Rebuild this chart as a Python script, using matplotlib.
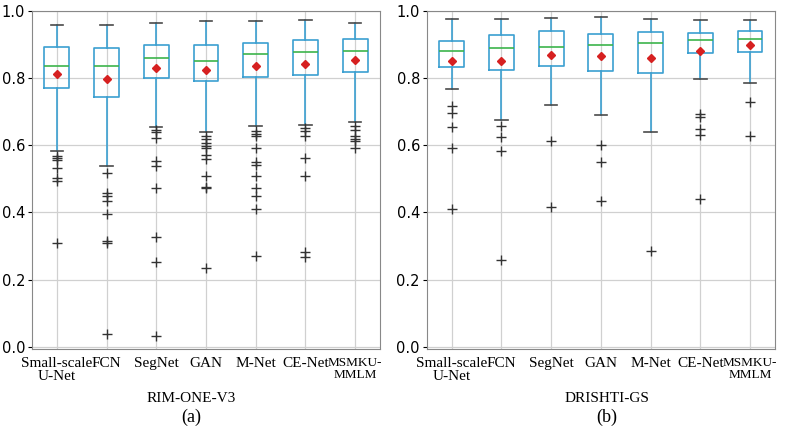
import matplotlib
matplotlib.use("Agg")
import matplotlib.pyplot as plt

methods = ["Small-scale\nU-Net", "FCN", "SegNet", "GAN", "M-Net", "CE-Net", "MSMKU-\nMMLM"]

# RIM-ONE-V3
a_whislo = [0.584, 0.537, 0.654, 0.640, 0.658, 0.660, 0.668]
a_q1     = [0.770, 0.744, 0.800, 0.791, 0.803, 0.809, 0.819]
a_med    = [0.837, 0.835, 0.860, 0.852, 0.873, 0.877, 0.882]
a_q3     = [0.894, 0.889, 0.900, 0.898, 0.904, 0.912, 0.917]
a_whishi = [0.959, 0.959, 0.964, 0.970, 0.970, 0.974, 0.964]
a_mean   = [0.813, 0.798, 0.830, 0.824, 0.835, 0.843, 0.854]
a_fliers = [
    [0.567, 0.562, 0.557, 0.532, 0.502, 0.492, 0.308],
    [0.517, 0.459, 0.449, 0.434, 0.396, 0.315, 0.308, 0.038],
    [0.646, 0.638, 0.621, 0.554, 0.539, 0.473, 0.326, 0.252, 0.032],
    [0.626, 0.618, 0.606, 0.599, 0.592, 0.572, 0.559, 0.507, 0.477, 0.472, 0.233],
    [0.641, 0.632, 0.626, 0.592, 0.549, 0.540, 0.509, 0.472, 0.448, 0.410, 0.271],
    [0.651, 0.641, 0.626, 0.562, 0.507, 0.283, 0.267],
    [0.656, 0.646, 0.626, 0.618, 0.614, 0.592],
]

# DRISHTI-GS
b_whislo = [0.766, 0.676, 0.720, 0.690, 0.640, 0.797, 0.784]
b_q1     = [0.833, 0.823, 0.835, 0.822, 0.816, 0.875, 0.877]
b_med    = [0.882, 0.890, 0.894, 0.900, 0.905, 0.913, 0.916]
b_q3     = [0.911, 0.929, 0.940, 0.931, 0.938, 0.933, 0.939]
b_whishi = [0.977, 0.977, 0.979, 0.981, 0.975, 0.974, 0.972]
b_mean   = [0.852, 0.852, 0.870, 0.865, 0.861, 0.882, 0.899]
b_fliers = [
    [0.716, 0.696, 0.653, 0.592, 0.410],
    [0.658, 0.624, 0.582, 0.258],
    [0.613, 0.416],
    [0.600, 0.550, 0.435],
    [0.285],
    [0.694, 0.684, 0.649, 0.629, 0.439],
    [0.728, 0.626],
]

datasets = ["RIM-ONE-V3", "DRISHTI-GS"]
panel_tags = ["(a)", "(b)"]

BOX_C = "#3b9fd1"
MED_C = "#3cb44b"
CAP_C = "#4a4a4a"

fig = plt.figure(figsize=(7.92, 4.29), dpi=100)
axes_pos = [[0.0404, 0.1865, 0.4394, 0.788], [0.539, 0.1865, 0.4394, 0.788]]
title_x = [191 / 792, 607 / 792]

all_data = [
    (a_whislo, a_q1, a_med, a_q3, a_whishi, a_mean, a_fliers),
    (b_whislo, b_q1, b_med, b_q3, b_whishi, b_mean, b_fliers),
]

for k, (wl, q1, med, q3, wh, mn, fl) in enumerate(all_data):
    ax = fig.add_axes(axes_pos[k])
    stats = []
    for i in range(len(methods)):
        stats.append(dict(label=methods[i], whislo=wl[i], q1=q1[i], med=med[i],
                          q3=q3[i], whishi=wh[i], mean=mn[i], fliers=fl[i]))
    ax.bxp(stats, positions=range(1, len(methods) + 1), widths=0.5,
           showmeans=True, showfliers=True,
           boxprops=dict(color=BOX_C, linewidth=1.2),
           whiskerprops=dict(color=BOX_C, linewidth=1.2),
           capprops=dict(color=CAP_C, linewidth=1.2),
           medianprops=dict(color=MED_C, linewidth=1.2),
           meanprops=dict(marker="D", markerfacecolor="#d62020", markeredgecolor="#d62020", markersize=4),
           flierprops=dict(marker="+", markeredgecolor="#333333", markersize=7, linewidth=0.8))
    ax.set_xlim(0.5, 7.5)
    ax.set_ylim(-0.007, 1.0)
    ax.set_yticks([0.0, 0.2, 0.4, 0.6, 0.8, 1.0])
    ax.tick_params(axis="y", labelsize=10.5, length=3, pad=2)
    ax.tick_params(axis="x", length=0, pad=6)
    ax.set_xticks(range(1, len(methods) + 1))
    labels = ax.set_xticklabels(methods, family="Liberation Serif", fontsize=11, linespacing=0.95)
    labels[-1].set_fontsize(9.5)
    ax.grid(True, color="#d0d0d0", linewidth=0.9)
    ax.set_axisbelow(True)
    for s in ax.spines.values():
        s.set_color("#888888")
    fig.text(title_x[k], 1 - 398 / 429, datasets[k], ha="center", va="center",
             family="Liberation Serif", fontsize=11)
    fig.text(title_x[k], 1 - 417 / 429, panel_tags[k], ha="center", va="center",
             family="Liberation Serif", fontsize=13)

fig.savefig("out.png", dpi=100)
